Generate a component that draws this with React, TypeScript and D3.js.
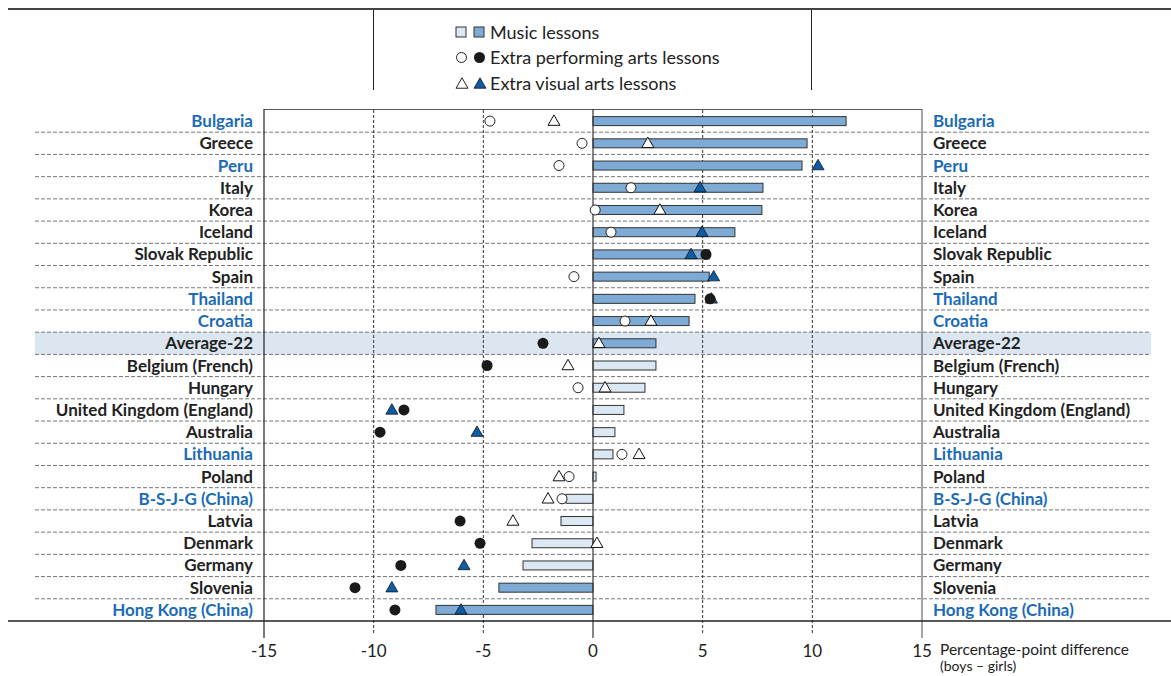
import React from "react";
import * as d3 from "d3";

const countries = [
  "Bulgaria", "Greece", "Peru", "Italy", "Korea", "Iceland", "Slovak Republic", "Spain",
  "Thailand", "Croatia", "Average-22", "Belgium (French)", "Hungary", "United Kingdom (England)",
  "Australia", "Lithuania", "Poland", "B-S-J-G (China)", "Latvia", "Denmark", "Germany",
  "Slovenia", "Hong Kong (China)",
];
const blueLabel = [true, false, true, false, false, false, false, false, true, true, false, false, false, false, false, true, false, true, false, false, false, false, true];
const music = [11.54, 9.76, 9.53, 7.75, 7.7, 6.47, 5.3, 5.3, 4.65, 4.38, 2.87, 2.87, 2.37, 1.41, 1.0, 0.91, 0.14, -1.23, -1.46, -2.78, -3.19, -4.29, -7.16];
const musicSig = [true, true, true, true, true, true, true, true, true, true, true, false, false, false, false, false, false, false, false, false, false, true, true];
const performing = [-4.7, -0.5, -1.55, 1.73, 0.1, 0.82, 5.15, -0.87, 5.34, 1.46, -2.28, -4.83, -0.68, -8.62, -9.71, 1.32, -1.09, -1.41, -6.06, -5.15, -8.76, -10.85, -9.03];
const performingSig = [false, false, false, false, false, false, true, false, true, false, true, true, false, true, true, false, false, false, true, true, true, true, true];
const visual = [-1.78, 2.5, 10.26, 4.88, 3.05, 4.97, 4.47, 5.5, 5.4, 2.64, 0.27, -1.14, 0.55, -9.17, -5.29, 2.1, -1.55, -2.05, -3.65, 0.18, -5.88, -9.17, -6.02];
const visualSig = [false, false, true, true, false, true, true, true, true, false, false, false, false, true, true, false, false, false, false, false, true, true, true];
const ticks = [-15, -10, -5, 0, 5, 10, 15];
const legendItems = ["Music lessons", "Extra performing arts lessons", "Extra visual arts lessons"];

const FONT = "Lato, 'Open Sans', sans-serif";
const DARK_BAR = "#7eabd6";
const LIGHT_BAR = "#dbe7f3";
const BLUE_TRI = "#0d5ca8";
const BLUE_TXT = "#1b6bb6";
const TXT = "#222";

export default function App() {
  const W = 1171, H = 676;
  const x = d3.scaleLinear().domain([-15, 15]).range([264, 922]);
  const y = d3.scaleBand<string>().domain(countries).range([110, 621]).paddingInner(0).paddingOuter(0);
  const step = y.step();
  const cy = (c: string) => (y(c) as number) + step / 2;
  const barH = 9;
  const tri = (cx: number, cyy: number, s = 12) => {
    const h = s * 0.87;
    return `M${cx},${cyy - h / 2 - 1}L${cx + s / 2},${cyy + h / 2 - 1}L${cx - s / 2},${cyy + h / 2 - 1}Z`;
  };
  return (
    <svg width={W} height={H} style={{ position: "absolute", left: 0, top: 0, display: "block", background: "#fff" }} fontFamily={FONT}>
      {/* top rule */}
      <line x1={8} x2={1171} y1={9} y2={9} stroke="#444" strokeWidth={2} />
      {/* legend box lines */}
      <line x1={373.5} x2={373.5} y1={10} y2={90} stroke="#222" strokeWidth={1} />
      <line x1={811.5} x2={811.5} y1={10} y2={90} stroke="#222" strokeWidth={1} />
      {/* legend */}
      <g>
        <rect x={456} y={27} width={10} height={10} fill={LIGHT_BAR} stroke="#333" strokeWidth={1} />
        <rect x={474} y={27} width={10} height={10} fill={DARK_BAR} stroke="#333" strokeWidth={1} />
        <text x={490} y={38.5} fontSize={18} fill={TXT}>{legendItems[0]}</text>
        <circle cx={461.5} cy={57.5} r={5} fill="#fff" stroke="#222" strokeWidth={1} />
        <circle cx={479.5} cy={57.5} r={5.5} fill="#1a1a1a" />
        <text x={490} y={64} fontSize={18} fill={TXT}>{legendItems[1]}</text>
        <path d={tri(462, 84, 12)} fill="#fff" stroke="#222" strokeWidth={1} />
        <path d={tri(480, 84, 12)} fill={BLUE_TRI} stroke="#111" strokeWidth={0.8} />
        <text x={490} y={89.5} fontSize={18} fill={TXT}>{legendItems[2]}</text>
      </g>
      {/* highlight band */}
      <rect x={35} y={y("Average-22") as number} width={1116} height={step} fill="#dbe6f1" />
      {/* row separators */}
      {countries.slice(0, -1).map((c, i) => (
        <line key={"sep" + i} x1={35} x2={1151} y1={(y(c) as number) + step} y2={(y(c) as number) + step}
          stroke="#777" strokeWidth={1} strokeDasharray="4,2" />
      ))}
      {/* vertical grid */}
      {[-10, -5, 5, 10].map((t) => (
        <line key={"g" + t} x1={x(t)} x2={x(t)} y1={110} y2={633} stroke="#333" strokeWidth={1} strokeDasharray="3,2" />
      ))}
      {/* frame */}
      <line x1={264} x2={922} y1={109.5} y2={109.5} stroke="#555" strokeWidth={1.2} />
      {[-15, 15].map((t) => (
        <line key={"f" + t} x1={x(t)} x2={x(t)} y1={109} y2={638} stroke={t === 15 ? "#666" : "#222"} strokeWidth={1.2} />
      ))}
      {/* bars */}
      {countries.map((c, i) => (
        <rect key={"b" + i} x={Math.min(x(0), x(music[i]))} y={cy(c) - barH / 2}
          width={Math.abs(x(music[i]) - x(0))} height={barH}
          fill={musicSig[i] ? DARK_BAR : LIGHT_BAR} stroke="#333" strokeWidth={1} />
      ))}
      {/* zero line */}
      <line x1={x(0)} x2={x(0)} y1={109} y2={638} stroke="#333" strokeWidth={1.2} />
      {/* triangles */}
      {countries.map((c, i) => (
        <path key={"t" + i} d={tri(x(visual[i]), cy(c), 12)}
          fill={visualSig[i] ? BLUE_TRI : "#fff"} stroke="#111" strokeWidth={visualSig[i] ? 0.8 : 1} />
      ))}
      {/* circles */}
      {countries.map((c, i) => (
        performingSig[i]
          ? <circle key={"c" + i} cx={x(performing[i])} cy={cy(c)} r={5.5} fill="#1a1a1a" />
          : <circle key={"c" + i} cx={x(performing[i])} cy={cy(c)} r={5} fill="#fff" stroke="#222" strokeWidth={1} />
      ))}
      {/* labels */}
      {countries.map((c, i) => (
        <g key={"l" + i} fontWeight={700} fontSize={17} fill={blueLabel[i] ? BLUE_TXT : TXT}>
          <text x={253} y={cy(c) + 6} textAnchor="end">{c}</text>
          <text x={933} y={cy(c) + 6}>{c}</text>
        </g>
      ))}
      {/* axis */}
      <line x1={8} x2={1171} y1={621} y2={621} stroke="#222" strokeWidth={1.5} />
      {ticks.map((t) => (
        <text key={"tk" + t} x={x(t)} y={656.5} textAnchor="middle" fontSize={17} fill={TXT}>{t}</text>
      ))}
      <text x={940} y={655} fontSize={15.5} fill={TXT}>Percentage-point difference</text>
      <text x={940} y={671} fontSize={14} fill={TXT}>(boys – girls)</text>
    </svg>
  );
}
